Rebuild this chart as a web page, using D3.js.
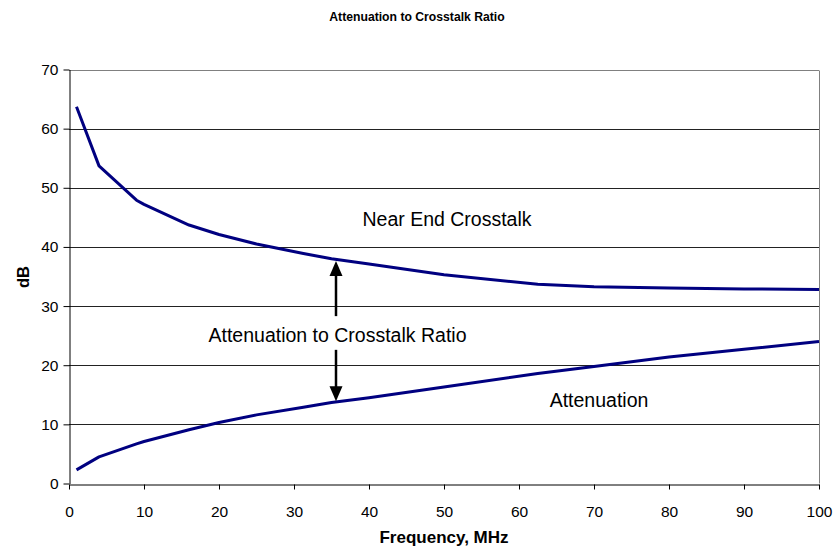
<!DOCTYPE html>
<html><head><meta charset="utf-8">
<script src="https://cdn.jsdelivr.net/npm/d3@7"></script>
<style>body{margin:0;background:#fff}text{font-family:"Liberation Sans",Arial,sans-serif}</style>
</head><body>
<svg id="c" width="834" height="552"></svg>
<script>
const freq     = [1, 4, 9, 10, 16, 20, 25, 31.25, 35, 40, 50, 62.5, 70, 80, 90, 100];
const nextVals = [63.7, 53.7, 47.9, 47.2, 43.7, 42.1, 40.5, 38.9, 38.0, 37.1, 35.3, 33.7, 33.25, 33.05, 32.9, 32.8];
const attVals  = [2.3, 4.5, 6.7, 7.1, 9.1, 10.3, 11.6, 12.9, 13.7, 14.5, 16.3, 18.6, 19.8, 21.4, 22.7, 24.0];
const xTicks = [0,10,20,30,40,50,60,70,80,90,100];
const yTicks = [0,10,20,30,40,50,60,70];
const arrowFreq = 35.6, arrowTop = 37.6, arrowUpEnd = 28.3, arrowDownStart = 22.6, arrowBottom = 13.9;

const svg = d3.select("#c");
const L=69, R=819, T=69.5, B=483.5;
const x = d3.scaleLinear().domain([0,100]).range([L,R]);
const y = d3.scaleLinear().domain([0,70]).range([B,T]);

svg.append("text").attr("x",417).attr("y",21).attr("text-anchor","middle")
  .attr("font-size",12.2).attr("font-weight","bold").text("Attenuation to Crosstalk Ratio");

// gridlines
svg.append("g").selectAll("line").data(yTicks.filter(d=>d>0)).join("line")
  .attr("x1",L).attr("x2",R).attr("y1",d=>Math.round(y(d))+0.5).attr("y2",d=>Math.round(y(d))+0.5)
  .attr("stroke",d=>d===70?"#808080":"#222").attr("stroke-width",1);
svg.append("line").attr("x1",R+0.5).attr("x2",R+0.5).attr("y1",Math.round(T)+0.5).attr("y2",B)
  .attr("stroke","#808080");

const xa = svg.append("g").attr("transform",`translate(0,${Math.round(B)+0.5})`)
  .call(d3.axisBottom(x).tickValues(xTicks).tickSize(5).tickSizeOuter(0).tickPadding(16));
const ya = svg.append("g").attr("transform",`translate(${L+0.5},0)`)
  .call(d3.axisLeft(y).tickValues(yTicks).tickSize(6).tickSizeOuter(0).tickPadding(5));
[xa,ya].forEach(a=>{a.select(".domain").attr("stroke","#000");
  a.selectAll("line").attr("stroke","#000");
  a.selectAll("text").attr("font-size",15.5).attr("fill","#000").attr("font-family","Liberation Sans, Arial, sans-serif");});

const line = d3.line().x((d,i)=>x(freq[i])).y(d=>y(d));
[nextVals, attVals].forEach(v=>{
  svg.append("path").attr("d",line(v)).attr("fill","none").attr("stroke","#000080")
    .attr("stroke-width",3).attr("stroke-linejoin","round");
});

// arrows
const ax = x(arrowFreq);
svg.append("line").attr("x1",ax).attr("x2",ax).attr("y1",y(arrowTop)+12).attr("y2",y(arrowUpEnd))
  .attr("stroke","#000").attr("stroke-width",2.5);
svg.append("line").attr("x1",ax).attr("x2",ax).attr("y1",y(arrowDownStart)).attr("y2",y(arrowBottom)-12)
  .attr("stroke","#000").attr("stroke-width",2.5);
svg.append("path").attr("d",`M${ax},${y(arrowTop)} L${ax-6.5},${y(arrowTop)+15} L${ax+6.5},${y(arrowTop)+15} Z`).attr("fill","#000");
svg.append("path").attr("d",`M${ax},${y(arrowBottom)} L${ax-6.5},${y(arrowBottom)-15} L${ax+6.5},${y(arrowBottom)-15} Z`).attr("fill","#000");

svg.append("text").attr("x",337.5).attr("y",342).attr("text-anchor","middle").attr("font-size",19.5).text("Attenuation to Crosstalk Ratio");
svg.append("text").attr("x",447).attr("y",226).attr("text-anchor","middle").attr("font-size",19.5).text("Near End Crosstalk");
svg.append("text").attr("x",599).attr("y",407).attr("text-anchor","middle").attr("font-size",19.5).text("Attenuation");

svg.append("text").attr("x",444).attr("y",543).attr("text-anchor","middle").attr("font-size",17).attr("font-weight","bold").text("Frequency, MHz");
svg.append("text").attr("transform","translate(29,277) rotate(-90)").attr("text-anchor","middle").attr("font-size",16.5).attr("font-weight","bold").text("dB");
</script>
</body></html>
